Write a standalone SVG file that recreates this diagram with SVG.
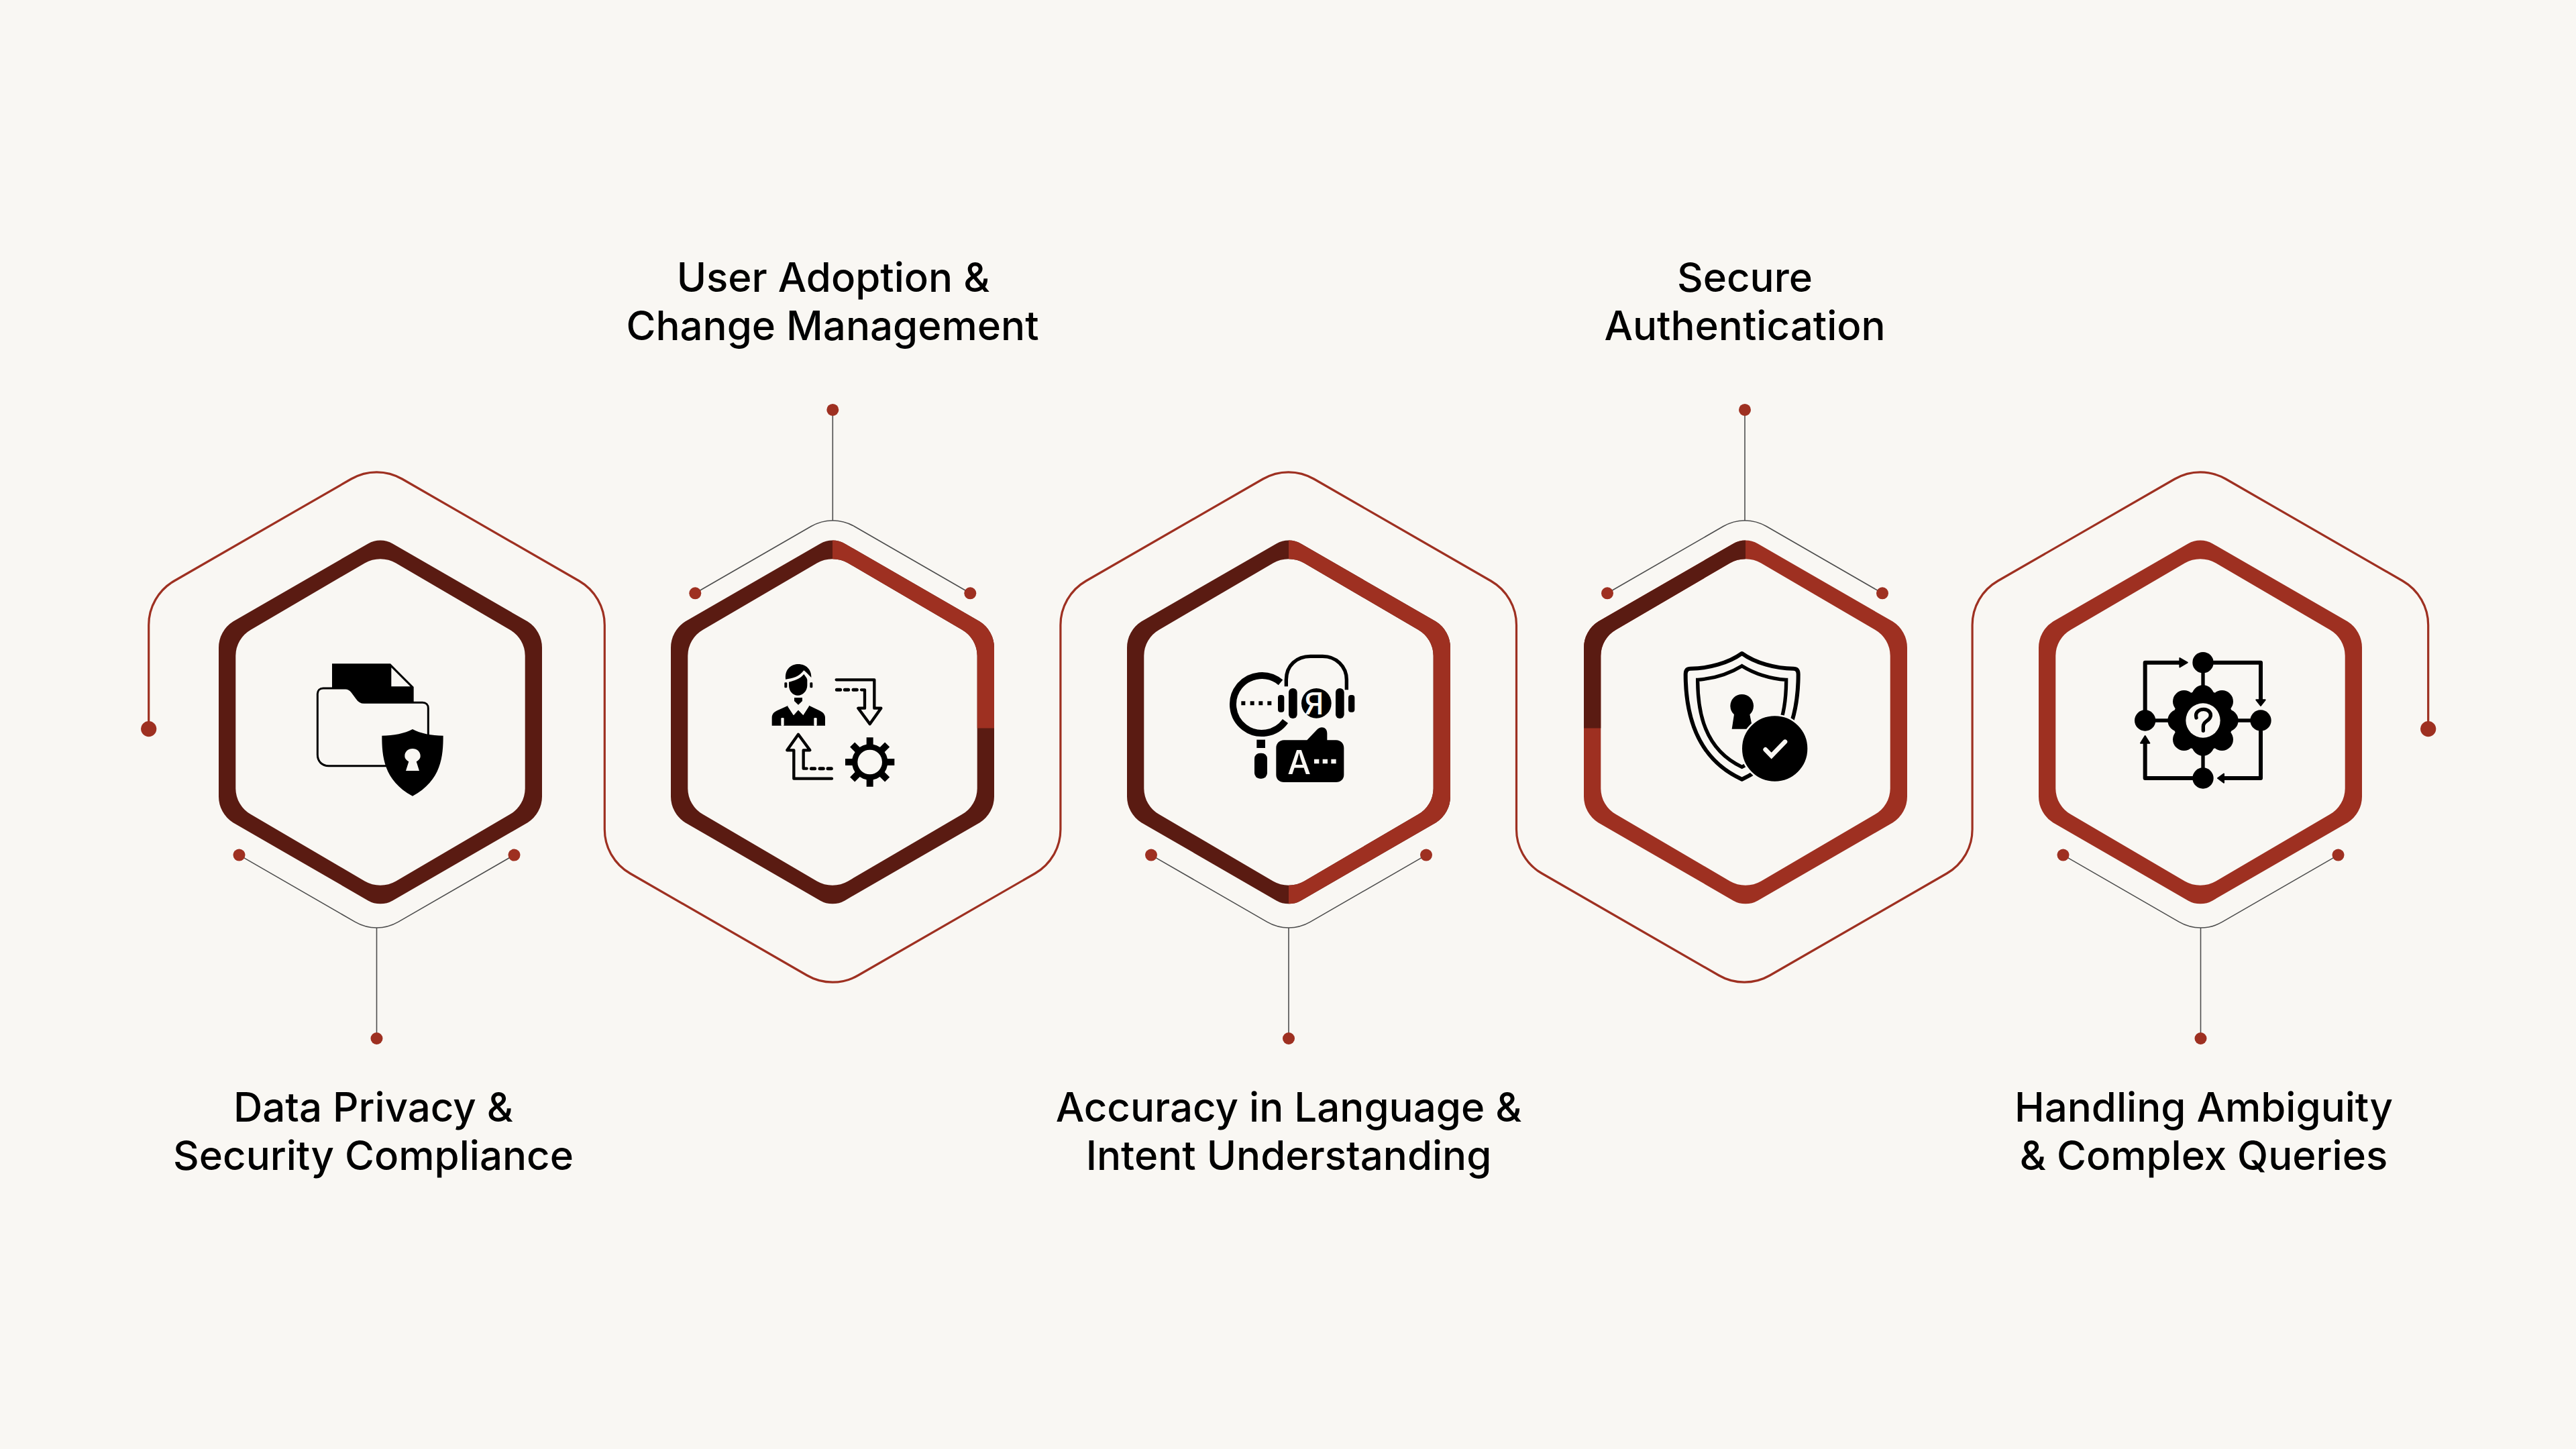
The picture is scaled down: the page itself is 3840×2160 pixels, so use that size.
<svg xmlns="http://www.w3.org/2000/svg" width="3840" height="2160" viewBox="0 0 3840 2160">
<style>
.bg{fill:#F9F7F3}
.red{fill:#9E3021}
.dark{fill:#5A1B12}
.dot{fill:#9E3021}
.thin{fill:none;stroke:#4d4d4d;stroke-width:1.6}
.snake{fill:none;stroke:#9E3021;stroke-width:3.2}
.label{font-family:Inter,"Liberation Sans",sans-serif;font-size:60px;font-weight:500;fill:#000;text-anchor:middle}
.k{fill:#000}
.w{fill:#F9F7F3}
.sk{fill:none;stroke:#000;stroke-linecap:round;stroke-linejoin:round}
.icontext{font-family:Inter,"Liberation Sans",sans-serif;font-weight:500;fill:#F9F7F3;text-anchor:middle}
</style>
<defs>
<path id="ring" fill-rule="evenodd" d="M-18.4 -266 A36.8 36.8 0 0 1 18.4 -266 L219.6 -149.8 A46 46 0 0 1 241 -111 V111 A46 46 0 0 1 219.6 149.8 L18.4 266 A36.8 36.8 0 0 1 -18.4 266 L-219.6 149.8 A46 46 0 0 1 -241 111 V-111 A46 46 0 0 1 -219.6 -149.8 Z M-23.3 -237 L-193 -137.7 A45 45 0 0 0 -215.7 -99 V99 A45 45 0 0 0 -193 137.7 L-23.3 237 A46.6 46.6 0 0 0 23.3 237 L193 137.7 A45 45 0 0 0 215.7 99 V-99 A45 45 0 0 0 193 -137.7 L23.3 -237 A46.6 46.6 0 0 0 -23.3 -237 Z"/>
<clipPath id="clipQuarter"><rect x="0" y="-300" width="300" height="309"/></clipPath>
<clipPath id="clipHalf"><rect x="0" y="-300" width="300" height="600"/></clipPath>
<clipPath id="clipQuarterDark"><path d="M0 -300 H-300 V9 H0 Z"/></clipPath>
<g id="braceB">
<path class="thin" d="M-205 0 L-32 99.8 A64 64 0 0 0 32 99.8 L205 0"/>
<path class="thin" d="M0 108.4 V273.4"/>
<circle class="dot" cx="-205" cy="0" r="9"/>
<circle class="dot" cx="205" cy="0" r="9"/>
<circle class="dot" cx="0" cy="273.4" r="9"/>
</g>
<g id="braceT">
<path class="thin" d="M-205 0 L-32 -99.8 A64 64 0 0 1 32 -99.8 L205 0"/>
<path class="thin" d="M0 -108.4 V-273.4"/>
<circle class="dot" cx="-205" cy="0" r="9"/>
<circle class="dot" cx="205" cy="0" r="9"/>
<circle class="dot" cx="0" cy="-273.4" r="9"/>
</g>
</defs>
<rect class="bg" width="3840" height="2160"/>
<g id="connectors">
<path class="snake" d="M221.7 1086 V932 A76 76 0 0 1 259.7 866 L523.5 714 A76 76 0 0 1 599.5 714 L863.3 866 A76 76 0 0 1 901.3 932 V1236 A76 76 0 0 0 939.3 1302 L1203.1 1454 A76 76 0 0 0 1279.1 1454 L1542.9 1302 A76 76 0 0 0 1580.9 1236 V932 A76 76 0 0 1 1618.9 866 L1882.7 714 A76 76 0 0 1 1958.7 714 L2222.5 866 A76 76 0 0 1 2260.5 932 V1236 A76 76 0 0 0 2298.5 1302 L2562.3 1454 A76 76 0 0 0 2638.3 1454 L2902.1 1302 A76 76 0 0 0 2940.1 1236 V932 A76 76 0 0 1 2978.1 866 L3241.9 714 A76 76 0 0 1 3317.9 714 L3581.7 866 A76 76 0 0 1 3619.7 932 V1086"/>
<circle class="dot" cx="221.7" cy="1086.6" r="11.6"/>
<circle class="dot" cx="3619.7" cy="1086.6" r="11.6"/>
<use href="#braceB" x="561.5" y="1274.6"/>
<use href="#braceT" x="1241.3" y="884.3"/>
<use href="#braceB" x="1921" y="1274.6"/>
<use href="#braceT" x="2601" y="884.3"/>
<use href="#braceB" x="3280.5" y="1274.6"/>
</g>

<g id="node-1">
<use href="#ring" class="dark" x="567" y="1076.4"/>
<g transform="translate(430 940) scale(.33333)">
<path class="k" d="M195 148 H456 L560 252 V340 H195 Z"/>
<path class="w" d="M460 165 V250 H545 Z"/>
<path class="w" stroke="#000" stroke-width="9" d="M155 258 H255 C270 258 278 266 285 275 L305 302 C313 314 323 322 338 322 H600 C615 322 625 332 625 347 V520 L435 605 H180 C150 605 130 585 130 555 V283 C130 268 140 258 155 258 Z"/>
<path class="k" d="M555 441 C520 460 470 470 418 470 C418 560 425 670 555 740 C685 670 692 560 692 470 C640 470 590 460 555 441 Z"/>
<path class="w" d="M555 528 C575 528 590 542 590 560 C590 572 584 578 572 586 L585 627 H525 L538 586 C526 578 520 572 520 560 C520 542 535 528 555 528 Z"/>
</g>
<text class="label" x="556.5" y="1672">Data Privacy &amp;</text>
<text class="label" x="556.5" y="1744">Security Compliance</text>
</g>

<g id="node-2">
<use href="#ring" class="dark" x="1241" y="1076.4"/>
<g transform="translate(1241 1076.4)"><use href="#ring" class="red" clip-path="url(#clipQuarter)"/></g>
<g transform="translate(1120 960) scale(.33333)">
<path class="k" d="M153 155 C150 110 180 90 210 90 C245 90 270 115 268 150 C258 140 245 125 235 118 C215 145 185 155 153 158 Z"/>
<path class="k" d="M168 170 C190 165 220 155 235 135 C242 145 248 150 250 160 V185 C250 210 230 230 208 230 C185 230 168 210 168 185 Z"/>
<rect class="k" x="148" y="172" width="12" height="24" rx="4"/>
<rect class="k" x="262" y="172" width="12" height="24" rx="4"/>
<path class="k" d="M192 240 H228 V255 L210 272 L192 255 Z"/>
<path class="k" d="M92 330 C92 315 100 305 115 298 L165 275 L190 318 L210 295 L232 318 L258 275 L305 298 C320 305 330 315 330 330 V365 H92 Z"/>
<path class="w" d="M162 278 L178 262 L210 295 L188 318 Z M258 278 L242 262 L210 295 L232 318 Z"/>
<rect class="w" x="133" y="330" width="13" height="36" rx="4"/>
<rect class="w" x="280" y="330" width="13" height="36" rx="4"/>
<g id="loop-arrow">
<path class="sk" stroke-width="13" d="M380 160 H550 V287 H580 L530 358 L478 287 H507 V205 H492"/>
<path class="sk" stroke-width="15" d="M382 205 H398 M418 205 H434 M456 205 H472"/>
</g>
<use href="#loop-arrow" transform="rotate(180 370 381)"/>
<g stroke="#000" stroke-width="30">
<path d="M420 528 H640 M530 418 V638 M452 450 L608 606 M608 450 L452 606"/>
</g>
<circle class="k" cx="530" cy="528" r="80"/>
<circle class="w" cx="530" cy="528" r="55"/>
</g>
<text class="label" x="1242" y="435">User Adoption &amp;</text>
<text class="label" x="1241" y="507">Change Management</text>
</g>

<g id="node-3">
<use href="#ring" class="dark" x="1921" y="1076.4"/>
<g transform="translate(1921 1076.4)"><use href="#ring" class="red" clip-path="url(#clipHalf)"/></g>
<g transform="translate(1810 960) scale(.33333)">
<path fill="none" stroke="#000" stroke-width="30" d="M297 172 A129 129 0 1 0 318 345"/>
<path class="k" d="M121 256 h18 v18 h-18 Z M161 256 h18 v18 h-18 Z M199 256 h18 v18 h-18 Z M238 256 h18 v18 h-18 Z"/>
<rect class="k" x="190" y="428" width="38" height="37"/>
<rect class="k" x="180" y="488" width="57" height="114" rx="25"/>
<path fill="none" stroke="#000" stroke-width="16" d="M322 190 V160 C322 95 370 55 430 55 H485 C545 55 592 100 592 160 V205"/>
<rect class="k" x="333" y="198" width="38" height="135" rx="18"/>
<rect class="k" x="543" y="198" width="38" height="135" rx="18"/>
<rect class="k" x="285" y="228" width="28" height="77" rx="12"/>
<rect class="k" x="600" y="228" width="28" height="77" rx="12"/>
<circle class="k" cx="457" cy="265" r="67"/>
<text class="icontext" x="447" y="316" font-size="134">Я</text>
<path class="k" d="M312 430 H415 L458 385 C475 365 505 370 505 400 V430 H545 C565 430 580 445 580 465 V585 C580 605 565 618 545 618 H312 C292 618 277 605 277 585 V465 C277 445 292 430 312 430 Z"/>
<text class="icontext" x="380" y="582" font-size="147">A</text>
<path class="w" d="M447 515 h22 v20 h-22 Z M485 515 h22 v20 h-22 Z M523 515 h22 v20 h-22 Z"/>
</g>
<text class="label" x="1921" y="1672">Accuracy in Language &amp;</text>
<text class="label" x="1921" y="1744">Intent Understanding</text>
</g>

<g id="node-4">
<use href="#ring" class="red" x="2602" y="1076.4"/>
<g transform="translate(2602 1076.4)"><use href="#ring" class="dark" clip-path="url(#clipQuarterDark)"/></g>
<g transform="translate(2490 960) scale(.33333)">
<path fill="none" stroke="#000" stroke-width="18" stroke-linejoin="round" d="M320 42 C380 85 470 110 550 110 Q572 110 572 135 C572 300 530 510 320 605 C110 510 68 300 68 135 Q68 110 90 110 C170 110 260 85 320 42 Z"/>
<path fill="none" stroke="#000" stroke-width="16" d="M320 98 C260 135 190 155 122 160 C122 300 150 470 320 550 C490 470 518 300 518 160 C450 155 380 135 320 98 Z"/>
<circle class="k" cx="320" cy="277" r="52"/>
<path class="k" d="M285 315 H355 L368 380 H275 Z"/>
<circle class="k" stroke="#F9F7F3" stroke-width="8" cx="467" cy="468" r="150"/>
<path fill="none" stroke="#F9F7F3" stroke-width="20" stroke-linecap="round" stroke-linejoin="miter" d="M425 472 L452 500 L513 437"/>
</g>
<text class="label" x="2601" y="435">Secure</text>
<text class="label" x="2601" y="507">Authentication</text>
</g>

<g id="node-5">
<use href="#ring" class="red" x="3280" y="1076.4"/>
<g transform="translate(3170 960) scale(.33333)">
<path class="sk" stroke-width="18" d="M83 300 V83 H240 M390 83 H600 V250 M600 390 V600 H440 M295 600 H83 V445"/>
<path class="k" stroke="#000" stroke-width="6" stroke-linejoin="round" d="M238 63 L272 83 L238 103 Z M580 250 H620 L600 276 Z M435 581 V620 L408 600 Z M63 443 H103 L83 411 Z"/>
<path stroke="#000" stroke-width="16" d="M342 83 V600 M83 342 H600"/>
<circle class="k" cx="342" cy="83" r="47"/>
<circle class="k" cx="83" cy="342" r="47"/>
<circle class="k" cx="600" cy="342" r="47"/>
<circle class="k" cx="342" cy="600" r="47"/>
<circle class="k" cx="342" cy="342" r="135"/>
<g class="k">
<circle cx="342" cy="234" r="50"/><circle cx="342" cy="450" r="50"/><circle cx="234" cy="342" r="50"/><circle cx="450" cy="342" r="50"/>
<circle cx="257" cy="257" r="50"/><circle cx="427" cy="257" r="50"/><circle cx="257" cy="427" r="50"/><circle cx="427" cy="427" r="50"/>
</g>
<circle class="w" cx="342" cy="342" r="77"/>
<path class="sk" stroke-width="16" d="M312 330 C305 305 325 292 345 292 C368 292 380 310 375 325 C370 345 343 345 343 368 V388"/>
</g>
<text class="label" x="3285" y="1672">Handling Ambiguity</text>
<text class="label" x="3285" y="1744">&amp; Complex Queries</text>
</g>
</svg>
